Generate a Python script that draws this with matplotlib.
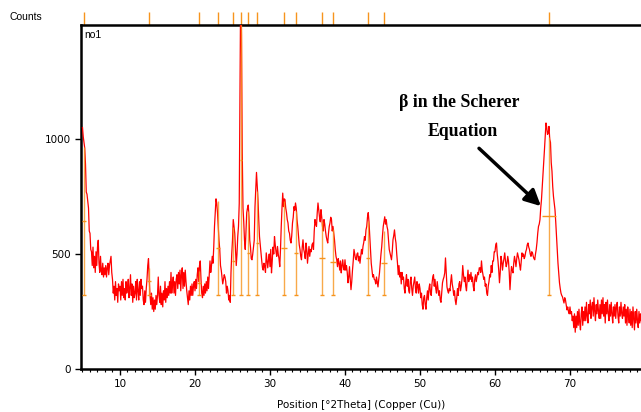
import numpy as np
import matplotlib.pyplot as plt
from matplotlib.transforms import blended_transform_factory

# diffractogram, start 5.0 deg, step 0.1 deg
start_2theta = 5.0
step_2theta = 0.1
counts = [
    1050, 1010, 985, 960, 890, 770, 760, 730, 700, 600,
    590, 520, 510, 450, 530, 440, 490, 420, 510, 450,
    530, 560, 460, 420, 490, 430, 410, 460, 400, 440,
    410, 450, 400, 440, 460, 410, 450, 470, 490, 420,
    390, 330, 360, 300, 380, 320, 350, 290, 370, 340,
    360, 300, 380, 320, 390, 310, 350, 300, 380, 330,
    350, 390, 310, 350, 410, 320, 370, 290, 360, 310,
    330, 380, 300, 390, 340, 300, 380, 320, 390, 350,
    360, 300, 280, 340, 290, 350, 390, 450, 480, 390,
    320, 280, 330, 260, 310, 250, 300, 260, 320, 280,
    320, 400, 320, 290, 360, 280, 330, 270, 340, 300,
    380, 290, 350, 310, 360, 320, 380, 330, 420, 330,
    370, 400, 330, 380, 320, 390, 410, 350, 420, 370,
    430, 340, 410, 440, 350, 420, 360, 430, 380, 340,
    310, 280, 340, 300, 360, 320, 370, 320, 360, 380,
    340, 390, 350, 410, 440, 380, 450, 470, 390, 330,
    310, 360, 320, 370, 330, 380, 340, 400, 350, 410,
    470, 420, 450, 490, 460, 530, 620, 680, 740, 720,
    680, 620, 560, 520, 450, 430, 400, 370, 390, 410,
    400, 380, 330, 360, 340, 300, 320, 290, 420, 500,
    560, 650, 620, 590, 520, 450, 500, 576, 620, 720,
    1200, 1700, 1450, 940, 700, 640, 560, 520, 600, 680,
    700, 713, 660, 560, 530, 480, 475, 500, 530, 560,
    706, 780, 855, 800, 737, 650, 576, 540, 505, 470,
    440, 430, 460, 445, 420, 505, 470, 440, 475, 500,
    445, 520, 418, 470, 530, 500, 576, 540, 510, 490,
    533, 500, 480, 445, 520, 620, 700, 765, 706, 740,
    737, 700, 680, 650, 635, 600, 590, 560, 548, 580,
    635, 660, 706, 690, 722, 700, 650, 620, 580, 540,
    520, 490, 475, 530, 562, 520, 505, 480, 548, 520,
    460, 500, 533, 490, 520, 510, 540, 548, 520, 600,
    650, 630, 620, 680, 722, 690, 662, 640, 693, 660,
    620, 600, 650, 630, 600, 576, 560, 548, 590, 620,
    635, 660, 650, 600, 620, 590, 562, 520, 490, 475,
    445, 480, 460, 430, 470, 418, 450, 475, 440, 430,
    475, 430, 450, 420, 375, 400, 445, 390, 345, 380,
    430, 470, 520, 500, 480, 475, 500, 505, 470, 490,
    460, 490, 520, 500, 533, 550, 576, 560, 605, 620,
    660, 680, 640, 576, 520, 460, 430, 400, 410, 390,
    387, 370, 400, 380, 357, 390, 418, 460, 500, 533,
    580, 620, 640, 662, 630, 650, 620, 605, 560, 520,
    505, 490, 475, 510, 562, 580, 605, 570, 548, 500,
    460, 410, 450, 400, 420, 370, 420, 390, 400, 350,
    330, 380, 410, 360, 390, 340, 330, 380, 400, 350,
    320, 360, 380, 400, 350, 330, 380, 360, 330, 370,
    350, 310, 330, 280, 260, 310, 320, 280, 260, 310,
    340, 300, 350, 370, 330, 320, 370, 400, 410, 360,
    390, 350, 330, 380, 350, 320, 340, 300, 290, 330,
    375, 390, 400, 418, 483, 420, 357, 340, 330, 350,
    340, 380, 410, 370, 350, 320, 340, 300, 280, 310,
    350, 320, 370, 380, 340, 360, 390, 450, 410, 380,
    400, 360, 340, 390, 430, 380, 410, 390, 420, 380,
    400, 360, 340, 390, 410, 380, 400, 420, 410, 440,
    440, 420, 470, 430, 410, 390, 400, 360, 370, 330,
    320, 360, 380, 410, 400, 450, 420, 470, 470, 510,
    510, 540, 548, 500, 470, 430, 375, 420, 490, 470,
    430, 460, 480, 505, 470, 445, 460, 490, 470, 420,
    345, 400, 445, 430, 418, 460, 490, 470, 445, 480,
    505, 490, 475, 450, 430, 470, 505, 490, 500, 480,
    490, 510, 520, 540, 548, 530, 520, 500, 490, 510,
    505, 490, 480, 475, 500, 520, 550, 590, 620, 630,
    650, 700, 737, 790, 837, 900, 955, 1010, 1070, 1050,
    1020, 1026, 1055, 1000, 985, 898, 860, 793, 750, 720,
    693, 640, 576, 520, 460, 420, 375, 350, 330, 320,
    314, 300, 287, 310, 300, 280, 257, 270, 250, 240,
    270, 240, 250, 210, 230, 180, 240, 160, 230, 180,
    250, 190, 260, 200, 170, 240, 270, 190, 250, 210,
    270, 210, 290, 230, 200, 280, 240, 300, 220, 270,
    290, 230, 310, 250, 210, 280, 240, 300, 250, 220,
    280, 220, 300, 240, 310, 230, 280, 200, 290, 240,
    300, 240, 210, 280, 230, 290, 240, 200, 270, 230,
    280, 220, 270, 290, 230, 200, 270, 230, 290, 240,
    220, 270, 230, 280, 200, 260, 190, 270, 230, 200,
    260, 190, 250, 180, 270, 220, 170, 250, 200, 260,
    210, 180, 250, 200, 240, 210,
]
two_theta = start_2theta + step_2theta * np.arange(len(counts))

# peak list
peak_pos = [5.2, 13.87, 20.53, 23.07, 25.07, 26.13, 27.07, 28.27, 31.87,
            33.47, 36.93, 38.4, 43.07, 45.2, 67.2]
peak_top = [965, 440, 426, 730, 618, 1496, 687, 774, 730, 687, 643, 608,
            643, 600, 1009]
peak_fwhm = [0.6, 0.5, 0.5, 0.5, 0.4, 0.3, 0.4, 0.4, 0.7, 0.6, 0.9, 0.7,
             0.6, 0.8, 1.8]
peak_base = 322

W, H = 641, 412
fig = plt.figure(figsize=(W / 100, H / 100), dpi=100)
ax = fig.add_axes([81 / W, 1 - 369 / H, 1 - 81 / W, (369 - 25) / H])

plt.rcParams['font.family'] = 'Liberation Sans'

ax.plot(two_theta, counts, color='#ff0000', lw=0.9, zorder=3)

orange = '#f7941d'
for p, t, w in zip(peak_pos, peak_top, peak_fwhm):
    mid = (peak_base + t) / 2
    ax.vlines(p, peak_base, t, color=orange, lw=1.0, alpha=0.8, zorder=4)
    ax.hlines(mid, p - w / 2, p + w / 2, color=orange, lw=1.0, zorder=4)
    ax.hlines(peak_base, p - 0.3, p + 0.3, color=orange, lw=1.0, zorder=4)

# markers above the frame
trans = blended_transform_factory(ax.transData, ax.transAxes)
ax.vlines(peak_pos, 1.0, 1.0 + 13 / 344, color=orange, lw=1.0,
          transform=trans, clip_on=False)

ax.set_xlim(4.8, 79.47)
ax.set_ylim(0, 1496)
ax.set_xticks([10, 20, 30, 40, 50, 60, 70])
ax.set_xticks(np.arange(5, 80, 1), minor=True)
ax.set_yticks([0, 500, 1000])
ax.tick_params(axis='both', which='major', direction='out', length=4,
               width=1, labelsize=7.5, pad=3)
ax.tick_params(axis='x', which='minor', direction='out', length=2.5, width=0.8)
ax.spines['right'].set_visible(False)
for s in ['left', 'top', 'bottom']:
    ax.spines[s].set_linewidth(1.8)

ax.set_xlabel('Position [°2Theta] (Copper (Cu))', fontsize=7.5, labelpad=8)
fig.text(10 / W, 1 - 17 / H, 'Counts', fontsize=7.5, va='center')
ax.text(0.005, 0.985, 'no1', transform=ax.transAxes, fontsize=7.5,
        va='top', ha='left')

ax.text(55.3, 1160, 'β in the Scherer', fontsize=12.8, fontweight='bold',
        family='Liberation Serif', ha='center', va='center')
ax.text(55.7, 1034, 'Equation', fontsize=12.8, fontweight='bold',
        family='Liberation Serif', ha='center', va='center')
ax.annotate('', xy=(66.4, 700), xytext=(57.6, 968),
            arrowprops=dict(arrowstyle='-|>', lw=2.5, color='black',
                            mutation_scale=24))

fig.savefig('out.png', dpi=100)
